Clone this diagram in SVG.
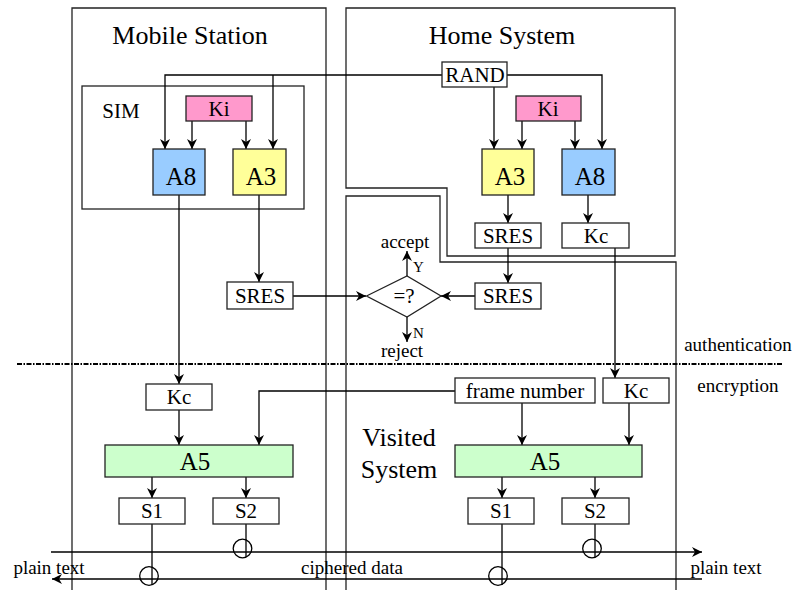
<svg xmlns="http://www.w3.org/2000/svg" width="795" height="590" viewBox="0 0 795 590" font-family="'Liberation Serif', 'DejaVu Serif', serif">
<defs>
<marker id="ah" markerUnits="userSpaceOnUse" markerWidth="12" markerHeight="10" refX="10" refY="5" orient="auto">
<path d="M0,0 L10,5 L0,10 L3,5 Z" fill="#000"/>
</marker>
</defs>
<style>
text{font-family:'Liberation Serif','DejaVu Serif',serif;fill:#000;text-anchor:middle}
.frame{fill:none;stroke:#222;stroke-width:1.3}
.box{fill:#fff;stroke:#222;stroke-width:1.3}
.ki{fill:#ff99cc;stroke:#222;stroke-width:1.3}
.a8{fill:#99ccff;stroke:#222;stroke-width:1.3}
.a3{fill:#ffff99;stroke:#222;stroke-width:1.3}
.a5{fill:#ccffcc;stroke:#222;stroke-width:1.3}
.t{font-size:21px}
.big{font-size:25px}
.title{font-size:26px}
.small{font-size:19px}
.lbl{font-size:15px;text-anchor:start}
.c{fill:none;stroke:#000;stroke-width:1.3}
.arr{fill:none;stroke:#000;stroke-width:1.3;marker-end:url(#ah)}
</style>
<rect width="795" height="590" fill="#fff"/>

<g id="frames">
<path class="frame" d="M72,590 V8 H326 V590"/>
<path class="frame" d="M346,8 H675 V256 H447 V188 H346 Z"/>
<path class="frame" d="M346,590 V196 H440 V262 H676 V590"/>
<rect class="frame" x="82" y="86" width="222" height="123"/>
</g>

<g id="titles">
<text class="title" x="190" y="44">Mobile Station</text>
<text class="title" x="502" y="44">Home System</text>
<text class="title" x="399" y="446">Visited</text>
<text class="title" x="399" y="478">System</text>
<text x="121" y="118" style="font-size:21px">SIM</text>
<text class="small" x="738" y="351">authentication</text>
<text class="small" x="738" y="392">encryption</text>
<text class="small" x="49" y="574">plain text</text>
<text class="small" x="352" y="574">ciphered data</text>
<text class="small" x="726" y="574">plain text</text>
<text class="small" x="405" y="248">accept</text>
<text class="small" x="402" y="357">reject</text>
<text class="lbl" x="413" y="272">Y</text>
<text class="lbl" x="413" y="338">N</text>
</g>

<g id="connectors">
<line x1="17" y1="364" x2="783" y2="364" stroke="#000" stroke-width="1.8" stroke-dasharray="5,1.5,1.5,1.5"/>
<path class="arr" d="M442,75 H165 V149"/>
<path class="arr" d="M273,75 V149"/>
<path class="arr" d="M507,75 H602 V149"/>
<path class="arr" d="M494,87 V149"/>
<path class="arr" d="M192,121 V149"/>
<path class="arr" d="M246,121 V149"/>
<path class="arr" d="M522,121 V149"/>
<path class="arr" d="M575,121 V149"/>
<path class="arr" d="M508,195 V223"/>
<path class="arr" d="M588,195 V223"/>
<path class="arr" d="M259,195 V282"/>
<path class="arr" d="M508,248 V283"/>
<path class="arr" d="M293,296 H366"/>
<path class="arr" d="M475,296 H441"/>
<path class="arr" d="M407,276 V251"/>
<path class="arr" d="M407,317 V342"/>
<path class="arr" d="M179,195 V384"/>
<path class="arr" d="M615,248 V378"/>
<path class="arr" d="M179,410 V445"/>
<path class="arr" d="M455,391 H259 V445"/>
<path class="arr" d="M522,403 V445"/>
<path class="arr" d="M629,403 V445"/>
<path class="arr" d="M152,477 V498"/>
<path class="arr" d="M246,477 V498"/>
<path class="arr" d="M502,477 V498"/>
<path class="arr" d="M595,477 V498"/>
<path class="arr" d="M51,552 H702"/>
<path class="arr" d="M702,579 H52"/>
<path class="c" d="M152,524 V585"/>
<path class="c" d="M246,524 V557"/>
<path class="c" d="M502,524 V585"/>
<path class="c" d="M595,524 V557"/>
<circle class="c" cx="149" cy="576" r="9.3"/>
<circle class="c" cx="242.5" cy="548.5" r="9.3"/>
<circle class="c" cx="498" cy="576" r="9.3"/>
<circle class="c" cx="592" cy="548.5" r="9.3"/>
</g>

<g id="ms-ki"><rect class="ki" x="186" y="96" width="66" height="25"/><text class="t" x="219" y="116">Ki</text></g>
<g id="ms-a8"><rect class="a8" x="153" y="149" width="52" height="46"/><text class="big" x="181" y="185">A8</text></g>
<g id="ms-a3"><rect class="a3" x="233" y="149" width="53" height="46"/><text class="big" x="261" y="185">A3</text></g>
<g id="ms-sres"><rect class="box" x="227" y="282" width="66" height="27"/><text class="t" x="260" y="303">SRES</text></g>
<g id="rand"><rect class="box" x="442" y="62" width="65" height="25"/><text class="t" x="475" y="82">RAND</text></g>
<g id="hs-ki"><rect class="ki" x="516" y="96" width="65" height="25"/><text class="t" x="548" y="116">Ki</text></g>
<g id="hs-a3"><rect class="a3" x="482" y="149" width="52" height="46"/><text class="big" x="510" y="185">A3</text></g>
<g id="hs-a8"><rect class="a8" x="562" y="149" width="53" height="46"/><text class="big" x="590" y="185">A8</text></g>
<g id="hs-sres"><rect class="box" x="475" y="223" width="66" height="25"/><text class="t" x="508" y="243">SRES</text></g>
<g id="hs-kc"><rect class="box" x="562" y="223" width="67" height="25"/><text class="t" x="596" y="243">Kc</text></g>
<g id="vs-sres"><rect class="box" x="475" y="283" width="66" height="26"/><text class="t" x="508" y="303">SRES</text></g>
<g id="compare"><path class="box" d="M366.5,296 L407,276 L441,296 L407,317 Z"/><text class="t" x="404" y="303">=?</text></g>
<g id="ms-kc"><rect class="box" x="146" y="384" width="66" height="26"/><text class="t" x="179" y="404">Kc</text></g>
<g id="frame-number"><rect class="box" x="455" y="378" width="140" height="25"/><text class="t" x="525" y="398">frame number</text></g>
<g id="vs-kc"><rect class="box" x="603" y="378" width="66" height="25"/><text class="t" x="636" y="398">Kc</text></g>
<g id="ms-a5"><rect class="a5" x="105" y="445" width="188" height="32"/><text class="big" x="195" y="470">A5</text></g>
<g id="vs-a5"><rect class="a5" x="455" y="445" width="187" height="32"/><text class="big" x="545" y="470">A5</text></g>
<g id="ms-s1"><rect class="box" x="119" y="498" width="66" height="26"/><text class="t" x="152" y="518">S1</text></g>
<g id="ms-s2"><rect class="box" x="213" y="498" width="66" height="26"/><text class="t" x="246" y="518">S2</text></g>
<g id="vs-s1"><rect class="box" x="468" y="498" width="66" height="26"/><text class="t" x="501" y="518">S1</text></g>
<g id="vs-s2"><rect class="box" x="562" y="498" width="67" height="26"/><text class="t" x="595" y="518">S2</text></g>
</svg>
